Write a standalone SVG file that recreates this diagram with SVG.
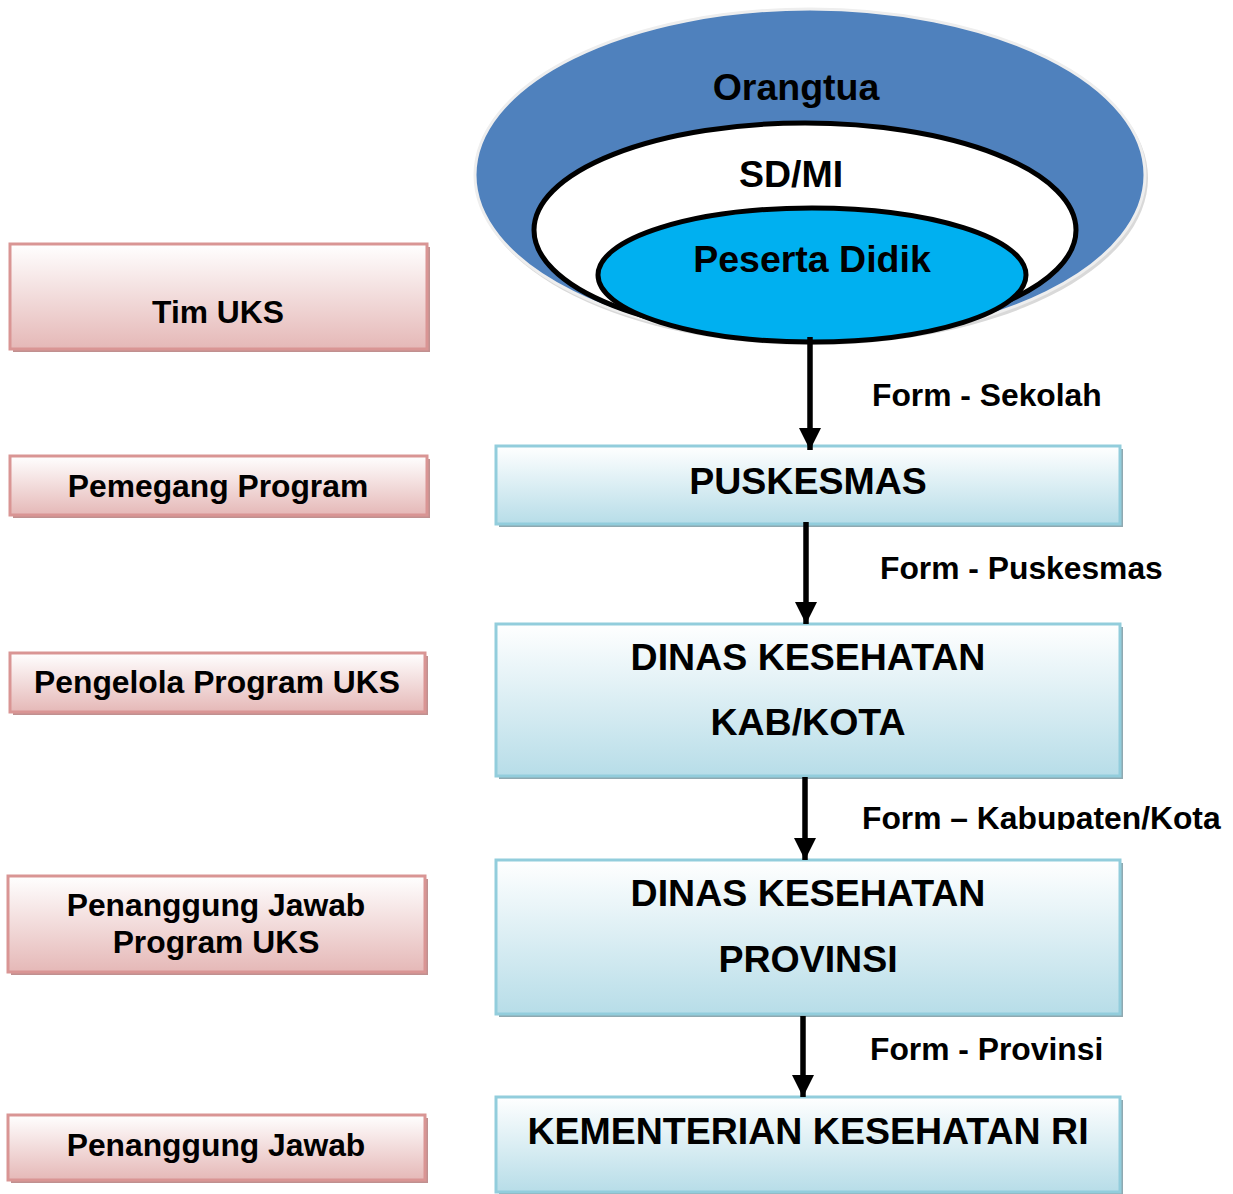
<svg xmlns="http://www.w3.org/2000/svg" width="1233" height="1194" viewBox="0 0 1233 1194">
<style>
text{font-family:"Liberation Sans",Arial,sans-serif;font-weight:bold;fill:#000}
.big{font-size:37.5px;text-anchor:middle}
.lab{font-size:31.8px;text-anchor:middle}
.form{font-size:31.8px}
.pink{fill:url(#gp);stroke:#D99594;stroke-width:3}
.pshadow{fill:#C09090}
.blue{fill:url(#gb);stroke:#92CDDC;stroke-width:3}
.bshadow{fill:#8FA9B1}
.conn{stroke:#000;stroke-width:5.5;fill:none}
</style>
<defs>
<linearGradient id="gp" x1="0" y1="0" x2="0" y2="1"><stop offset="0" stop-color="#FFFFFF"/><stop offset="1" stop-color="#E5B8B7"/></linearGradient>
<linearGradient id="gb" x1="0" y1="0" x2="0" y2="1"><stop offset="0" stop-color="#FFFFFF"/><stop offset="1" stop-color="#B7DDE8"/></linearGradient>
<marker id="ah" markerWidth="4" markerHeight="4" viewBox="0 0 4 4" refX="4" refY="2" orient="auto" markerUnits="strokeWidth"><path d="M0,0 L4,2 L0,4 Z" fill="#000"/></marker>
<clipPath id="clipK"><rect x="850" y="790" width="383" height="40"/></clipPath>
</defs>
<g id="orangtua">
<ellipse cx="812" cy="178" rx="336" ry="167" fill="#D9D9D9"/>
<ellipse cx="810" cy="175" rx="335" ry="166" fill="#4F81BD" stroke="#EEEEEE" stroke-width="3"/>
<text class="big" x="796" y="100">Orangtua</text>
</g>
<g id="sdmi">
<ellipse cx="805" cy="230" rx="271" ry="107" fill="#FFFFFF" stroke="#000" stroke-width="5"/>
<text class="big" x="791" y="187">SD/MI</text>
</g>
<g id="peserta">
<ellipse cx="812" cy="275" rx="214" ry="67" fill="#00B0F0" stroke="#000" stroke-width="5"/>
<text class="big" x="812" y="272">Peserta Didik</text>
</g>
<g id="tim-uks">
<rect class="pshadow" x="13" y="247" width="417" height="105"/>
<rect class="pink" x="10" y="244" width="417" height="105"/>
<text class="lab" x="218" y="323">Tim UKS</text>
</g>
<g id="pemegang">
<rect class="pshadow" x="13" y="459" width="417" height="59"/>
<rect class="pink" x="10" y="456" width="417" height="59"/>
<text class="lab" x="218" y="497">Pemegang Program</text>
</g>
<g id="pengelola">
<rect class="pshadow" x="13" y="656" width="415" height="59"/>
<rect class="pink" x="10" y="653" width="415" height="59"/>
<text class="lab" x="217" y="693">Pengelola Program UKS</text>
</g>
<g id="pj-program">
<rect class="pshadow" x="11" y="879" width="417" height="96"/>
<rect class="pink" x="8" y="876" width="417" height="96"/>
<text class="lab" x="216" y="916">Penanggung Jawab</text>
<text class="lab" x="216" y="953">Program UKS</text>
</g>
<g id="pj">
<rect class="pshadow" x="11" y="1118" width="417" height="65"/>
<rect class="pink" x="8" y="1115" width="417" height="65"/>
<text class="lab" x="216" y="1156">Penanggung Jawab</text>
</g>
<g id="puskesmas">
<rect class="bshadow" x="499" y="449" width="624" height="78"/>
<rect class="blue" x="496" y="446" width="624" height="78"/>
<text class="big" x="808" y="494">PUSKESMAS</text>
</g>
<g id="dinkes-kab">
<rect class="bshadow" x="499" y="627" width="624" height="152"/>
<rect class="blue" x="496" y="624" width="624" height="152"/>
<text class="big" x="808" y="670">DINAS KESEHATAN</text>
<text class="big" x="808" y="735">KAB/KOTA</text>
</g>
<g id="dinkes-prov">
<rect class="bshadow" x="499" y="863" width="624" height="154"/>
<rect class="blue" x="496" y="860" width="624" height="154"/>
<text class="big" x="808" y="906">DINAS KESEHATAN</text>
<text class="big" x="808" y="972">PROVINSI</text>
</g>
<g id="kemenkes">
<rect class="bshadow" x="499" y="1100" width="624" height="95"/>
<rect class="blue" x="496" y="1097" width="624" height="95"/>
<text class="big" x="808" y="1144">KEMENTERIAN KESEHATAN RI</text>
</g>
<g id="connectors">
<line class="conn" x1="810" y1="337" x2="810" y2="450" marker-end="url(#ah)"/>
<line class="conn" x1="806" y1="522" x2="806" y2="624" marker-end="url(#ah)"/>
<line class="conn" x1="805" y1="777" x2="805" y2="860" marker-end="url(#ah)"/>
<line class="conn" x1="803" y1="1016" x2="803" y2="1097" marker-end="url(#ah)"/>
<text class="form" x="872" y="406">Form - Sekolah</text>
<text class="form" x="880" y="579">Form - Puskesmas</text>
<text class="form" x="862" y="829" clip-path="url(#clipK)">Form – Kabupaten/Kota</text>
<text class="form" x="870" y="1060">Form - Provinsi</text>
</g>
</svg>
